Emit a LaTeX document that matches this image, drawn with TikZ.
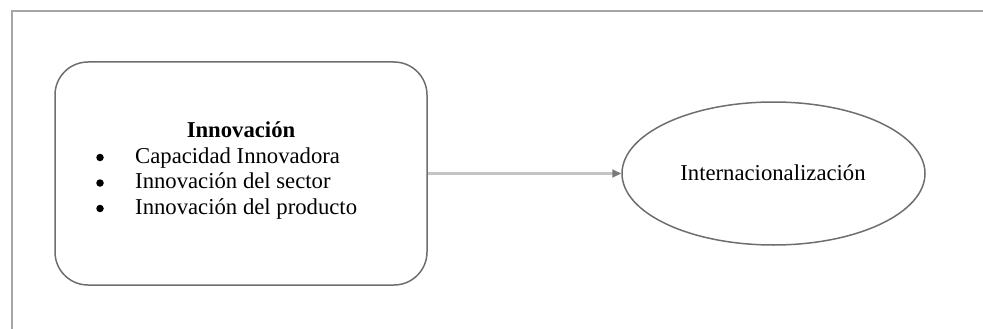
\documentclass[tikz,border=0pt]{standalone}
\usepackage{fontspec}
\setmainfont{Liberation Serif}
\usetikzlibrary{arrows.meta,shapes.geometric}
\definecolor{framegray}{HTML}{A6A6A6}
\definecolor{shapegray}{HTML}{6E6E6E}
\definecolor{linegray}{HTML}{C4C4C4}
\definecolor{tipgray}{HTML}{7A7A7A}
\tikzset{
  txt/.style={inner sep=0pt, font=\fontsize{22.7}{26}\selectfont, anchor=base west},
  bul/.style={circle, fill=black, inner sep=0pt, minimum size=7.5pt},
  boxshape/.style={draw=shapegray, line width=1.5pt, rounded corners=33pt, minimum width=372pt, minimum height=223pt, inner sep=0pt},
  ellshape/.style={draw=shapegray, line width=1.5pt, ellipse, minimum width=303pt, minimum height=143pt, inner sep=0pt},
  conn/.style={draw=linegray, line width=2.2pt, -{Triangle[length=9pt,width=8pt,color=tipgray]}},
  framestyle/.style={draw=framegray, line width=2pt}
}
\begin{document}
\begin{tikzpicture}[x=1pt,y=-1pt]
\useasboundingbox (0,0) rectangle (983,329);
\coordinate (fa) at (12,329);
\coordinate (fb) at (12,11);
\coordinate (fc) at (983,11);
\draw[framestyle] (fa) -- (fb) -- (fc);
\node[boxshape] (box) at (241,173.5) {};
\node[ellshape] (ell) at (773.5,173.5) {};
\node[txt, anchor=base, font=\fontsize{22.7}{26}\selectfont\bfseries] (title) at (241,137) {Innovación};
\node[bul] (b1) at (100,157.5) {};
\node[bul] (b2) at (100,183) {};
\node[bul] (b3) at (100,208.5) {};
\node[txt] (l1) at (135,163) {Capacidad Innovadora};
\node[txt] (l2) at (135,188.5) {Innovación del sector};
\node[txt] (l3) at (135,214) {Innovación del producto};
\node[txt, anchor=base] (int) at (773,180) {Internacionalización};
\draw[conn] (box) -- (ell);
\end{tikzpicture}
\end{document}
